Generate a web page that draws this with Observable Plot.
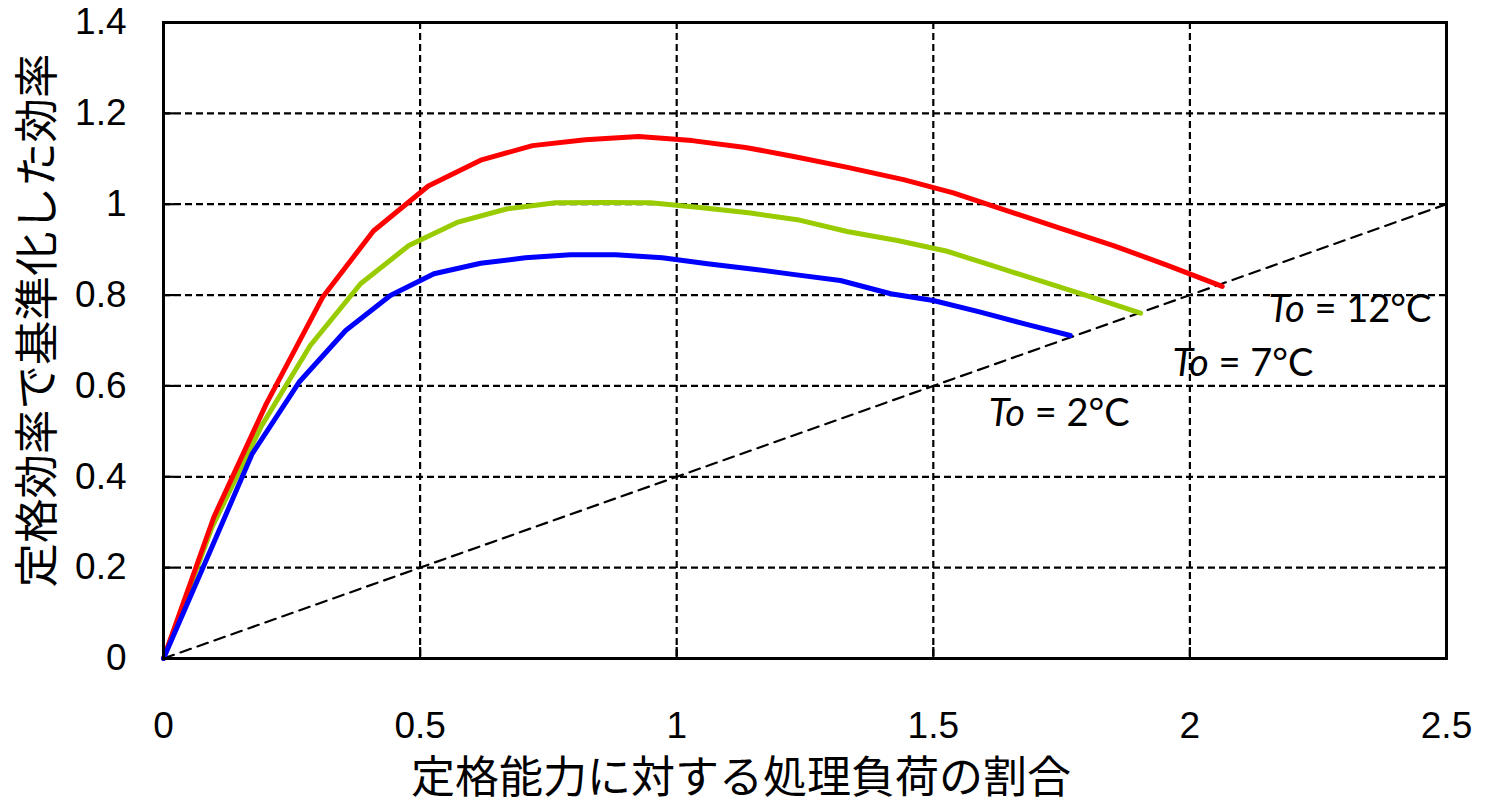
<!DOCTYPE html>
<html>
<head>
<meta charset="utf-8">
<script src="https://cdn.jsdelivr.net/npm/d3@7"></script>
<script src="https://cdn.jsdelivr.net/npm/@observablehq/plot@0.6"></script>
<style>
  html, body { margin: 0; padding: 0; background: #fff; }
  #chart svg { display: block; }
</style>
</head>
<body>
<div id="chart"></div>
<script>
// ---- data ----
const xTicks = [0, 0.5, 1, 1.5, 2, 2.5];
const yTicks = [0, 0.2, 0.4, 0.6, 0.8, 1, 1.2, 1.4];

const t12X = [0, 0.098, 0.2, 0.31, 0.409, 0.516, 0.618, 0.719, 0.822, 0.926, 1.03, 1.134, 1.228, 1.333, 1.442, 1.539, 1.643, 1.748, 1.851, 1.955, 2.063];
const t12Y = [0, 0.311, 0.56, 0.795, 0.941, 1.040, 1.097, 1.129, 1.142, 1.149, 1.140, 1.125, 1.105, 1.081, 1.054, 1.025, 0.986, 0.947, 0.909, 0.866, 0.819];

const t7X = [0, 0.095, 0.19, 0.286, 0.384, 0.478, 0.572, 0.670, 0.764, 0.857, 0.949, 1.045, 1.14, 1.235, 1.332, 1.43, 1.525, 1.62, 1.715, 1.81, 1.904];
const t7Y = [0, 0.29, 0.51, 0.689, 0.825, 0.909, 0.960, 0.990, 1.003, 1.004, 1.003, 0.993, 0.981, 0.966, 0.940, 0.920, 0.897, 0.863, 0.829, 0.795, 0.760];

const t2X = [0, 0.088, 0.173, 0.264, 0.355, 0.442, 0.527, 0.618, 0.705, 0.793, 0.881, 0.972, 1.06, 1.15, 1.23, 1.319, 1.417, 1.50, 1.59, 1.68, 1.767];
const t2Y = [0, 0.229, 0.451, 0.608, 0.722, 0.799, 0.847, 0.870, 0.882, 0.889, 0.889, 0.882, 0.869, 0.857, 0.845, 0.832, 0.803, 0.788, 0.763, 0.736, 0.711];

const refX = [0, 2.5];
const refY = [0, 1.0];

const labelText = ["To = 12°C", "To = 7°C", "To = 2°C"];
const labelX = [2.153, 1.966, 1.608];
const labelY = [0.768, 0.649, 0.538];

const xTitle = "定格能力に対する処理負荷の割合";
const yTitle = "定格効率で基準化した効率";

// ---- build ----
const toRows = (xs, ys) => xs.map((x, i) => ({x, y: ys[i]}));
const red = toRows(t12X, t12Y);
const green = toRows(t7X, t7Y);
const blue = toRows(t2X, t2Y);
const ref = toRows(refX, refY);
const labels = labelText.map((t, i) => ({t, x: labelX[i], y: labelY[i]}));

const fmt = d => String(d);

const chart = Plot.plot({
  width: 1486,
  height: 802,
  marginLeft: 163,
  marginRight: 40,
  marginTop: 22,
  marginBottom: 144,
  x: {domain: [0, 2.5]},
  y: {domain: [0, 1.4]},
  style: {background: "#fff", fontFamily: "'Liberation Sans', Arial, sans-serif", fontSize: "37px", color: "#000"},
  marks: [
    Plot.gridX(xTicks, {stroke: "#000", strokeOpacity: 1, strokeWidth: 2.2, strokeDasharray: "7,4"}),
    Plot.gridY(yTicks, {stroke: "#000", strokeOpacity: 1, strokeWidth: 2.2, strokeDasharray: "7,4"}),
    Plot.line(ref, {x: "x", y: "y", stroke: "#000", strokeWidth: 2.2, strokeDasharray: "11,7"}),
    Plot.line(green, {x: "x", y: "y", stroke: "#99CC00", strokeWidth: 5}),
    Plot.line(red, {x: "x", y: "y", stroke: "#FF0000", strokeWidth: 5}),
    Plot.line(blue, {x: "x", y: "y", stroke: "#0000FF", strokeWidth: 5}),
    Plot.frame({stroke: "#000", strokeWidth: 3}),
    Plot.axisX(xTicks, {tickSize: -11, tickPadding: 64, strokeWidth: 2.2, tickFormat: fmt, fontSize: 37, label: null}),
    Plot.axisY(yTicks, {tickSize: -11, tickPadding: 48, strokeWidth: 2.2, tickFormat: fmt, fontSize: 37, label: null}),
    Plot.text(labels, {x: "x", y: "y", text: "t", textAnchor: "start", lineAnchor: "middle", fontSize: 38, fontFamily: "Lato, 'Open Sans', sans-serif", fill: "#000"}),
    Plot.text([xTitle], {text: d => d, frameAnchor: "bottom", textAnchor: "middle", dx: -64, dy: 120, lineAnchor: "middle", fontSize: 44, fontFamily: "'Noto Sans CJK JP', sans-serif", fill: "#000"}),
    Plot.text([yTitle], {text: d => d, frameAnchor: "left", textAnchor: "middle", rotate: -90, dx: -125, dy: -20, lineAnchor: "middle", fontSize: 44.5, fontFamily: "'Noto Sans CJK JP', sans-serif", fill: "#000"})
  ]
});

// italicize "To" in the curve labels
d3.select(chart).selectAll("text").each(function() {
  const el = d3.select(this);
  const s = this.textContent;
  if (s.startsWith("To =")) {
    el.text(null);
    el.append("tspan").attr("font-style", "italic").text("To");
    el.append("tspan").text(s.slice(2));
  }
});

document.getElementById("chart").appendChild(chart);
</script>
</body>
</html>
